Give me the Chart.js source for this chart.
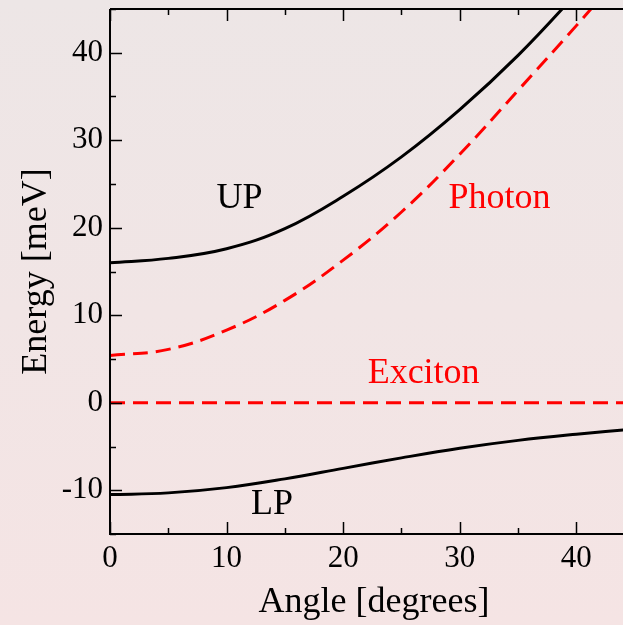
<!DOCTYPE html>
<html lang="en">
<head>
    <meta charset="UTF-8">
    <title>Polariton dispersion</title>
    <script src="https://cdn.jsdelivr.net/npm/chart.js"></script>
    <style>
        html, body {
            margin: 0;
            padding: 0;
        }
        body {
            width: 623px;
            height: 625px;
            overflow: hidden;
            background: linear-gradient(to bottom, #ede6e6, #f5e4e4);
        }
        #wrap {
            width: 623px;
            height: 625px;
        }
    </style>
</head>
<body>
    <div id="wrap"><canvas id="polChart" width="623" height="625"></canvas></div>

    <script>
        // angles in degrees, energies in meV
        const angles  = [0, 5, 10, 15, 20, 25, 30, 35, 40, 45];
        const upper   = [16.0, 16.5, 17.6, 19.9, 23.6, 28.1, 33.5, 39.7, 46.8, 54.5];
        const photon  = [5.4, 6.1, 8.3, 11.7, 16.3, 21.8, 28.4, 35.7, 43.1, 50.8];
        const exciton = [0, 0, 0, 0, 0, 0, 0, 0, 0, 0];
        const lower   = [-10.5, -10.3, -9.7, -8.7, -7.5, -6.3, -5.2, -4.3, -3.6, -3.0];

        const xTicks = [0, 10, 20, 30, 40];
        const yTicks = [-10, 0, 10, 20, 30, 40];

        // text labels placed in data coordinates [angle, energy]
        const labels = [
            { text: 'UP', at: [11.1, 23.3], color: '#000000' },
            { text: 'Photon', at: [33.4, 23.3], color: '#ff0000' },
            { text: 'Exciton', at: [26.9, 3.3], color: '#ff0000' },
            { text: 'LP', at: [13.9, -11.6], color: '#000000' }
        ];

        const serif = "'Liberation Serif', 'DejaVu Serif', serif";

        function pts(ys) {
            return angles.map((a, i) => ({ x: a, y: ys[i] }));
        }

        // axes frame, inward ticks, axis titles and curve labels
        const framePlugin = {
            id: 'frame',
            afterDraw(chart) {
                const ctx = chart.ctx;
                const area = chart.chartArea;
                const xs = chart.scales.x;
                const ys = chart.scales.y;
                ctx.save();
                ctx.strokeStyle = '#000';
                ctx.lineWidth = 2;
                ctx.beginPath();
                ctx.moveTo(area.left, area.top);
                ctx.lineTo(area.right + 2, area.top);
                ctx.moveTo(area.left, area.top);
                ctx.lineTo(area.left, area.bottom);
                ctx.lineTo(area.right + 2, area.bottom);
                ctx.stroke();

                ctx.lineWidth = 1.5;
                ctx.beginPath();
                for (let v = 0; v <= 44; v += 5) {
                    const px = Math.round(xs.getPixelForValue(v)) + 0.5;
                    const len = v % 10 === 0 ? 12 : 6;
                    ctx.moveTo(px, area.bottom);
                    ctx.lineTo(px, area.bottom - len);
                    ctx.moveTo(px, area.top);
                    ctx.lineTo(px, area.top + len);
                }
                for (let v = -15; v <= 45; v += 5) {
                    const py = Math.round(ys.getPixelForValue(v)) + 0.5;
                    const len = v % 10 === 0 ? 12 : 6;
                    ctx.moveTo(area.left, py);
                    ctx.lineTo(area.left + len, py);
                }
                ctx.stroke();

                ctx.fillStyle = '#000';
                ctx.font = '36px ' + serif;
                ctx.textAlign = 'center';
                ctx.textBaseline = 'middle';
                ctx.fillText('Angle [degrees]', 374, 603);
                ctx.save();
                ctx.translate(37, (area.top + area.bottom) / 2);
                ctx.rotate(-Math.PI / 2);
                ctx.fillText('Energy [meV]', 0, 0);
                ctx.restore();

                labels.forEach(l => {
                    ctx.fillStyle = l.color;
                    ctx.fillText(l.text, xs.getPixelForValue(l.at[0]), ys.getPixelForValue(l.at[1]));
                });
                ctx.restore();
            }
        };

        const lineCommon = {
            showLine: true,
            pointRadius: 0,
            borderWidth: 3,
            tension: 0.4,
            fill: false
        };

        new Chart(document.getElementById('polChart'), {
            type: 'scatter',
            data: {
                datasets: [
                    Object.assign({ label: 'UP', data: pts(upper), borderColor: '#000000' }, lineCommon),
                    Object.assign({ label: 'Photon', data: pts(photon), borderColor: '#ff0000', borderDash: [15, 8] }, lineCommon),
                    Object.assign({ label: 'Exciton', data: pts(exciton), borderColor: '#ff0000', borderDash: [15, 8] }, lineCommon, { tension: 0 }),
                    Object.assign({ label: 'LP', data: pts(lower), borderColor: '#000000' }, lineCommon)
                ]
            },
            options: {
                responsive: false,
                animation: false,
                layout: { padding: { top: 9, right: 0, left: 0, bottom: 0 } },
                plugins: {
                    legend: { display: false },
                    tooltip: { enabled: false }
                },
                scales: {
                    x: {
                        type: 'linear',
                        min: 0,
                        max: 44,
                        afterFit(scale) {
                            scale.height = 91;
                            scale.paddingLeft = 0;
                            scale.paddingRight = 0;
                        },
                        afterBuildTicks(scale) { scale.ticks = xTicks.map(v => ({ value: v })); },
                        grid: { display: false, drawTicks: false },
                        border: { display: false },
                        ticks: {
                            color: '#000',
                            padding: 6,
                            maxRotation: 0,
                            font: { family: serif, size: 31 }
                        }
                    },
                    y: {
                        type: 'linear',
                        min: -15,
                        max: 45,
                        afterFit(scale) {
                            scale.width = 110;
                            scale.paddingTop = 0;
                            scale.paddingBottom = 0;
                        },
                        afterBuildTicks(scale) { scale.ticks = yTicks.map(v => ({ value: v })); },
                        grid: { display: false, drawTicks: false },
                        border: { display: false },
                        ticks: {
                            color: '#000',
                            padding: 7,
                            font: { family: serif, size: 31 }
                        }
                    }
                }
            },
            plugins: [framePlugin]
        });
    </script>
</body>
</html>
